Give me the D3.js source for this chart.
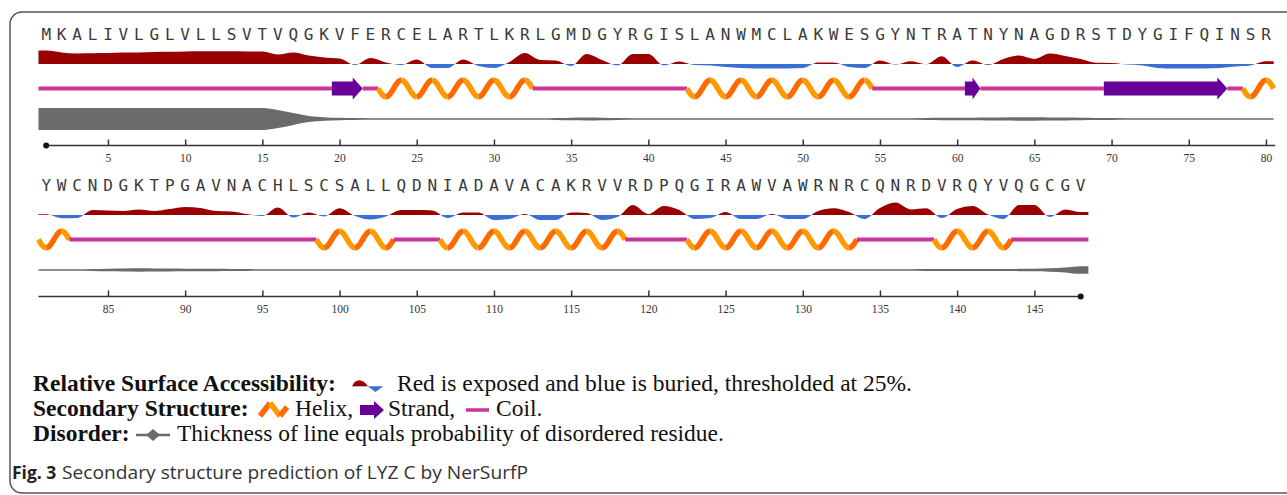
<!DOCTYPE html>
<html><head><meta charset="utf-8">
<script src="https://cdn.jsdelivr.net/npm/d3@7"></script>
<style>body{margin:0;background:#fff}svg{display:block}</style>
</head><body>
<svg id="c" width="1287" height="495"></svg>
<script>
// ---------------- data ----------------
const sequence = "MKALIVLGLVLLSVTVQGKVFERCELARTLKRLGMDGYRGISLANWMCLAKWESGYNTRATNYNAGDRSTDYGIFQINSRYWCNDGKTPGAVNACHLSCSALLQDNIADAVACAKRVVRDPQGIRAWVAWRNRCQNRDVRQYVQGCGV";

// relative surface accessibility per residue (threshold 0.25)
const rsa = [
 0.92,0.83,0.78,0.79,0.80,0.82,0.83,0.85,0.86,0.88,
 0.89,0.89,0.89,0.88,0.87,0.73,0.83,0.68,0.58,0.53,
 0.20,0.55,0.33,0.20,0.47,0.05,0.05,0.48,0.15,0.05,
 0.35,0.80,0.45,0.43,0.15,0.75,0.45,0.18,0.75,0.75,
 0.18,0.38,0.20,0.18,0.10,0.05,0.03,0.03,0.03,0.05,
 0.33,0.33,0.10,0.05,0.43,0.22,0.39,0.24,0.64,0.10,
 0.42,0.20,0.50,0.67,0.50,0.77,0.65,0.50,0.31,0.30,
 0.22,0.18,0.05,0.02,0.02,0.03,0.05,0.13,0.18,0.39,
 0.29,0.09,0.10,0.50,0.47,0.45,0.53,0.45,0.55,0.65,
 0.60,0.45,0.43,0.30,0.20,0.62,0.13,0.37,0.18,0.59,
 0.20,0.03,0.18,0.50,0.50,0.48,0.10,0.37,0.37,0.00,
 0.05,0.30,0.00,0.00,0.37,0.35,0.00,0.15,0.75,0.30,
 0.70,0.50,0.05,0.10,0.40,0.05,0.05,0.30,0.05,0.05,
 0.45,0.59,0.40,0.05,0.60,0.87,0.53,0.59,0.10,0.55,
 0.70,0.28,0.05,0.75,0.75,0.15,0.53,0.40
];
const rsaThreshold = 0.25;

// disorder probability per residue
const disorder = [
 1,1,1,1,1,1,1,1,1,1,
 1,1,1,1,1,0.82,0.52,0.24,0.12,0.06,
 0.04,0.03,0.03,0.03,0.03,0.03,0.03,0.03,0.03,0.03,
 0.03,0.03,0.03,0.05,0.08,0.09,0.07,0.04,0.03,0.03,
 0.03,0.03,0.03,0.03,0.03,0.03,0.03,0.03,0.03,0.03,
 0.03,0.03,0.03,0.03,0.03,0.03,0.03,0.04,0.06,0.07,
 0.08,0.09,0.10,0.11,0.11,0.10,0.09,0.07,0.05,0.04,
 0.03,0.03,0.03,0.03,0.03,0.03,0.03,0.03,0.03,0.03,
 0.03,0.03,0.03,0.05,0.08,0.10,0.11,0.10,0.09,0.08,
 0.07,0.06,0.05,0.04,0.03,0.03,0.03,0.03,0.03,0.03,
 0.03,0.03,0.03,0.03,0.03,0.03,0.03,0.03,0.03,0.03,
 0.03,0.03,0.03,0.03,0.03,0.03,0.03,0.03,0.03,0.03,
 0.03,0.03,0.03,0.03,0.03,0.03,0.03,0.03,0.03,0.03,
 0.03,0.03,0.03,0.03,0.03,0.03,0.03,0.04,0.04,0.04,
 0.04,0.04,0.05,0.06,0.08,0.11,0.18,0.32
];

// secondary structure segments (H helix, E strand, C coil)
const ssSegments = [
 {type:"C",start:1,end:19},{type:"E",start:20,end:21},{type:"C",start:22,end:22},
 {type:"H",start:23,end:32},{type:"C",start:33,end:42},{type:"H",start:43,end:54},
 {type:"C",start:55,end:60},{type:"E",start:61,end:61},{type:"C",start:62,end:69},
 {type:"E",start:70,end:77},{type:"C",start:78,end:78},{type:"H",start:79,end:82},
 {type:"C",start:83,end:98},{type:"H",start:99,end:103},{type:"C",start:104,end:106},
 {type:"H",start:107,end:118},{type:"C",start:119,end:122},{type:"H",start:123,end:133},
 {type:"C",start:134,end:138},{type:"H",start:139,end:143},{type:"C",start:144,end:148}
];

const rowStarts = [1, 81];
const rowEnds = [80, 148];
const row1Ticks = [5,10,15,20,25,30,35,40,45,50,55,60,65,70,75,80];
const row2Ticks = [85,90,95,100,105,110,115,120,125,130,135,140,145];
const rowTicks = [row1Ticks, row2Ticks];

// ---------------- style ----------------
const C = {red:"#990000", blue:"#3b6fd4", coil:"#cc3399", strand:"#660099",
  helixA:"#ff9900", helixB:"#ff6a00", dis:"#6b6b6b", axis:"#333"};
const ROW_OFF = 151;

const svg = d3.select("#c");
const defs = svg.append("defs");

svg.append("rect").attr("x",10).attr("y",12).attr("width",1300).attr("height",481)
  .attr("rx",12).attr("fill","none").attr("stroke","#555").attr("stroke-width",1.5);

rowStarts.forEach((rs, ri) => {
  const re = rowEnds[ri];
  const off = ri*ROW_OFF;
  const x = d3.scaleLinear().domain([rs, rs+79]).range([46.2, 46.2+79*15.44]);
  const residues = d3.range(rs, re+1);
  const g = svg.append("g");

  // sequence letters
  g.selectAll("text.aa").data(residues).join("text")
    .attr("class","aa").attr("x", d=>x(d)).attr("y", 40+off)
    .attr("text-anchor","middle").attr("font-family","DejaVu Sans Mono")
    .attr("font-size",16).attr("fill","#3a3a3a").text(d=>sequence[d-1]);

  // RSA
  const base = 64+off;
  const yR = d3.scaleLinear().domain([rsaThreshold, 1]).range([base, base-15]);
  const pts = [{r:rs-0.5, v:rsa[rs-1]}].concat(residues.map(r=>({r, v:rsa[r-1]})), [{r:re+0.5, v:rsa[re-1]}]);
  const area = d3.area().x(d=>x(d.r)).y0(yR(rsaThreshold)).y1(d=>yR(d.v)).curve(d3.curveMonotoneX);
  defs.append("clipPath").attr("id","ab"+ri).append("rect").attr("x",0).attr("y",base-40).attr("width",1287).attr("height",40);
  defs.append("clipPath").attr("id","be"+ri).append("rect").attr("x",0).attr("y",base).attr("width",1287).attr("height",40);
  g.append("path").datum(pts).attr("d",area).attr("fill",C.red).attr("clip-path",`url(#ab${ri})`);
  g.append("path").datum(pts).attr("d",area).attr("fill",C.blue).attr("clip-path",`url(#be${ri})`);

  // secondary structure
  const sy = 88.5+off;
  const A = 8.3, SW = 5.5;
  ssSegments.forEach(seg => {
    const s = Math.max(seg.start, rs), e = Math.min(seg.end, re);
    if (s > e) return;
    const a = s-0.5, b = e+0.5;
    if (seg.type === "C") {
      g.append("line").attr("x1",x(a)).attr("x2",x(b)).attr("y1",sy).attr("y2",sy)
        .attr("stroke",C.coil).attr("stroke-width",4);
    } else if (seg.type === "E") {
      const x0 = x(a), x1 = x(b), head = Math.min(10, (x1-x0)/2);
      const p = d3.path();
      p.moveTo(x0, sy-7); p.lineTo(x1-head, sy-7); p.lineTo(x1-head, sy-11); p.lineTo(x1, sy);
      p.lineTo(x1-head, sy+11); p.lineTo(x1-head, sy+7); p.lineTo(x0, sy+7); p.closePath();
      g.append("path").attr("d",p.toString()).attr("fill",C.strand);
    } else {
      const r0 = seg.start-0.5;
      const br = [a];
      for (let k=0; r0+0.5+k < b; k++){ const v=r0+0.5+k; if (v>a+1e-6) br.push(v); }
      br.push(b);
      const line = d3.line().x(d=>x(d.r)).y(d=>d.y);
      for (let i=0;i<br.length-1;i++){
        const m = (br[i]+br[i+1])/2;
        const down = Math.cos(Math.PI*(m-r0)) > 0;
        const rr = d3.range(br[i], br[i+1], 0.04).concat([br[i+1]]);
        const hp = rr.map(r=>({r, y: sy + A*Math.sin(Math.PI*(r-r0))}));
        g.append("path").datum(hp).attr("d",line).attr("fill","none")
          .attr("stroke", down ? C.helixA : C.helixB).attr("stroke-width",SW);
      }
    }
  });

  // disorder
  const dy = 119+off;
  const th = d3.scaleLinear().domain([0,1]).range([1,22]);
  const dp = [{r:rs-0.5, v:disorder[rs-1]}].concat(residues.map(r=>({r, v:disorder[r-1]})), [{r:re+0.5, v:disorder[re-1]}]);
  const darea = d3.area().x(d=>x(d.r)).y0(d=>dy-th(d.v)/2).y1(d=>dy+th(d.v)/2).curve(d3.curveMonotoneX);
  g.append("path").datum(dp).attr("d",darea).attr("fill",C.dis);

  // axis
  const ay = 145.5+off;
  const axis = d3.axisBottom(x).tickValues(rowTicks[ri]).tickSizeInner(-6).tickSizeOuter(0)
    .tickPadding(8).tickFormat(d3.format("d"));
  const ag = g.append("g").attr("transform",`translate(0,${ay})`).call(axis);
  ag.select(".domain").remove();
  ag.selectAll(".tick line").attr("stroke",C.axis).attr("stroke-width",1.5);
  ag.selectAll(".tick text").attr("font-family","Liberation Serif").attr("font-size",11.5).attr("fill","#333");
  const lx0 = ri===0 ? x(rs) : x(rs-0.5);
  const lx1 = ri===0 ? x(re+0.6) : x(re);
  g.append("line").attr("x1",lx0).attr("x2",lx1).attr("y1",ay).attr("y2",ay)
    .attr("stroke",C.axis).attr("stroke-width",1.6);
  g.append("circle").attr("cx", ri===0 ? x(rs) : x(re)).attr("cy",ay).attr("r",3).attr("fill","#111");
});

// ---------------- legend ----------------
const lg = svg.append("g").attr("font-family","Liberation Serif").attr("font-size",23.5).attr("fill","#111");
function txt(xp, yp, s, bold){ return lg.append("text").attr("x",xp).attr("y",yp).attr("font-weight",bold?"bold":"normal").text(s); }
// line 1
txt(33,391,"Relative Surface Accessibility:",true);
lg.append("path").attr("d","M352,386.5 C355,378 363,378 368,386.5 Z").attr("fill",C.red);
lg.append("line").attr("x1",352).attr("x2",383).attr("y1",386.5).attr("y2",386.5).attr("stroke","#bbb").attr("stroke-width",1);
lg.append("path").attr("d","M368,386.5 L383,386.5 L375.5,392 Z").attr("fill",C.blue);
txt(397,391,"Red is exposed and blue is buried, thresholded at 25%.",false);
// line 2
txt(33,416,"Secondary Structure:",true);
lg.append("path").attr("d","M260,416 L270,403").attr("stroke",C.helixB).attr("stroke-width",5.5).attr("fill","none");
lg.append("path").attr("d","M270,403 L280,416").attr("stroke",C.helixA).attr("stroke-width",5.5).attr("fill","none");
lg.append("path").attr("d","M280,416 L287,407").attr("stroke",C.helixB).attr("stroke-width",5.5).attr("fill","none");
txt(295,416,"Helix,",false);
lg.append("path").attr("d","M360,405 L374,405 L374,401 L384,410 L374,419 L374,415 L360,415 Z").attr("fill",C.strand);
txt(388,416,"Strand,",false);
lg.append("line").attr("x1",466).attr("x2",489).attr("y1",410).attr("y2",410).attr("stroke",C.coil).attr("stroke-width",3.5);
txt(496,416,"Coil.",false);
// line 3
txt(33,441,"Disorder:",true);
lg.append("line").attr("x1",136).attr("x2",170).attr("y1",435).attr("y2",435).attr("stroke",C.dis).attr("stroke-width",2.5);
lg.append("path").attr("d","M146,435 L153,429 L160,435 L153,441 Z").attr("fill",C.dis);
txt(177,441,"Thickness of line equals probability of disordered residue.",false);

// caption
svg.append("text").attr("x",12).attr("y",479).attr("font-family","Open Sans").attr("font-size",17.5)
  .attr("font-weight","bold").attr("fill","#222").text("Fig. 3");
svg.append("text").attr("x",62).attr("y",479).attr("font-family","Open Sans").attr("font-size",17.5)
  .attr("fill","#333").attr("textLength",466).attr("lengthAdjust","spacingAndGlyphs")
  .text("Secondary structure prediction of LYZ C by NerSurfP");
</script>
</body></html>
